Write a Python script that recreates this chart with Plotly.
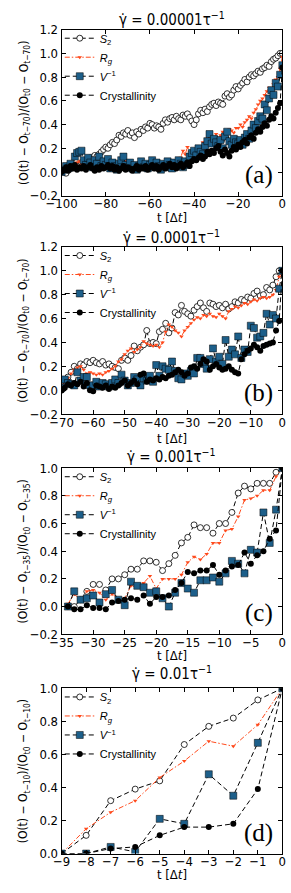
import plotly.graph_objects as go

# ---------------- data ----------------
t_a = list(range(-100, 1))
s2_a = [0.00,0.01,-0.01,0.02,0.03,0.05,0.04,0.06,0.05,0.08,
        0.06,0.09,0.10,0.12,0.11,0.14,0.13,0.15,0.17,0.19,
        0.21,0.20,0.23,0.25,0.24,0.27,0.31,0.30,0.33,0.32,
        0.35,0.31,0.33,0.29,0.34,0.32,0.36,0.35,0.38,0.37,
        0.41,0.40,0.37,0.39,0.38,0.36,0.41,0.44,0.42,0.45,
        0.46,0.44,0.47,0.45,0.44,0.48,0.47,0.49,0.46,0.43,
        0.40,0.44,0.49,0.52,0.50,0.53,0.51,0.55,0.57,0.58,
        0.56,0.59,0.58,0.57,0.64,0.66,0.63,0.65,0.69,0.72,
        0.70,0.73,0.75,0.78,0.76,0.80,0.82,0.81,0.83,0.85,
        0.84,0.87,0.88,0.90,0.89,0.93,0.95,0.96,0.98,1.00,
        1.00]
rg_a = [0.00,0.02,0.01,0.04,0.03,0.06,0.05,0.08,0.09,0.07,
        0.05,0.03,0.06,0.04,0.07,0.05,0.08,0.06,0.03,0.05,
        0.04,0.02,0.05,0.03,0.06,0.04,0.03,0.05,0.07,0.09,
        0.06,0.04,0.03,0.05,0.02,0.04,0.03,0.05,0.06,0.04,
        0.05,0.03,0.06,0.04,0.07,0.05,0.08,0.06,0.04,0.07,
        0.05,0.08,0.10,0.07,0.12,0.18,0.15,0.21,0.17,0.14,
        0.19,0.16,0.22,0.20,0.25,0.23,0.28,0.30,0.27,0.29,
        0.32,0.28,0.31,0.34,0.30,0.33,0.36,0.35,0.33,0.37,
        0.37,0.40,0.38,0.42,0.44,0.47,0.45,0.50,0.53,0.57,
        0.60,0.62,0.65,0.68,0.71,0.70,0.74,0.78,0.80,0.87,
        0.97]
v_a = [0.00,0.02,0.05,0.03,0.07,0.04,0.13,0.16,0.17,0.18,
       0.10,0.06,0.12,0.08,0.04,0.10,0.07,0.13,0.05,0.09,
       0.06,0.11,0.03,0.08,0.05,0.02,0.07,0.10,0.13,0.06,
       0.04,0.08,0.03,0.06,0.02,0.05,0.09,0.04,0.07,0.03,
       0.06,0.10,0.04,0.08,0.05,0.02,0.07,0.04,0.09,0.06,
       0.03,0.08,0.05,0.10,0.07,0.04,0.09,0.06,0.13,0.16,
       0.18,0.14,0.20,0.17,0.15,0.22,0.26,0.32,0.24,0.28,
       0.25,0.22,0.27,0.20,0.30,0.34,0.26,0.23,0.28,0.25,
       0.24,0.27,0.23,0.29,0.32,0.28,0.35,0.40,0.37,0.43,
       0.47,0.45,0.57,0.52,0.62,0.69,0.65,0.75,0.72,0.82,
       0.90]
cr_a = [0.00,0.02,0.04,0.01,0.05,0.03,0.06,0.02,0.04,0.03,
        0.05,0.02,0.04,0.06,0.03,0.01,0.04,0.02,0.05,0.03,
        0.04,0.06,0.03,0.05,0.02,0.04,0.01,0.03,0.05,0.02,
        0.04,0.03,0.01,0.03,0.05,0.02,0.04,0.03,0.05,0.02,
        0.04,0.06,0.03,0.05,0.02,0.04,0.06,0.03,0.05,0.07,
        0.04,0.06,0.03,0.05,0.07,0.04,0.06,0.08,0.05,0.09,
        0.11,0.10,0.12,0.14,0.11,0.13,0.17,0.15,0.18,0.16,
        0.20,0.22,0.17,0.14,0.19,0.16,0.13,0.18,0.21,0.19,
        0.23,0.21,0.25,0.27,0.24,0.29,0.31,0.28,0.33,0.36,
        0.34,0.38,0.41,0.39,0.44,0.47,0.45,0.50,0.54,0.58,
        0.88]

t_b = list(range(-70, 1))
s2_b = [0.00,0.05,0.11,0.15,0.20,0.18,0.22,0.21,0.24,0.23,
        0.25,0.23,0.22,0.24,0.21,0.22,0.20,0.19,0.18,0.25,
        0.27,0.25,0.29,0.37,0.33,0.36,0.38,0.50,0.39,0.40,
        0.39,0.49,0.51,0.56,0.48,0.52,0.65,0.63,0.71,0.66,
        0.64,0.62,0.67,0.70,0.73,0.69,0.66,0.73,0.72,0.70,
        0.71,0.69,0.72,0.68,0.70,0.74,0.73,0.76,0.75,0.78,
        0.77,0.81,0.83,0.79,0.80,0.86,0.84,0.88,0.95,1.00,
        1.00]
rg_b = [0.00,0.05,0.10,0.14,0.17,0.19,0.20,0.17,0.14,0.15,
        0.14,0.13,0.14,0.13,0.15,0.16,0.18,0.20,0.24,0.26,
        0.30,0.33,0.35,0.32,0.34,0.36,0.41,0.39,0.38,0.37,
        0.38,0.36,0.40,0.49,0.55,0.53,0.50,0.48,0.45,0.50,
        0.53,0.56,0.59,0.61,0.60,0.63,0.62,0.64,0.62,0.61,
        0.64,0.62,0.60,0.66,0.68,0.70,0.69,0.71,0.73,0.72,
        0.74,0.76,0.75,0.77,0.78,0.77,0.78,0.80,0.84,0.95,
        1.00]
v_b = [0.02,0.09,0.06,0.05,0.04,0.15,0.08,0.11,0.11,0.04,
       0.04,0.07,0.03,0.06,0.05,0.03,0.06,0.09,0.06,0.13,
       0.08,0.04,0.06,0.11,0.09,0.04,0.10,0.08,0.12,0.07,
       0.21,0.12,0.20,0.18,0.17,0.24,0.16,0.10,0.09,0.14,
       0.12,0.16,0.14,0.27,0.27,0.22,0.18,0.26,0.35,0.24,
       0.28,0.22,0.42,0.28,0.34,0.30,0.45,0.27,0.34,0.32,
       0.54,0.52,0.44,0.45,0.48,0.64,0.55,0.63,0.60,0.85,
       1.00]
cr_b = [0.00,0.02,0.05,0.04,0.06,0.05,0.07,0.03,0.06,0.00,
        -0.01,0.04,0.03,0.02,0.04,0.01,0.03,0.02,0.04,0.06,
        0.08,0.04,0.06,0.08,0.05,0.13,0.14,0.07,0.09,0.08,
        0.10,0.09,0.11,0.10,0.12,0.13,0.15,0.17,0.15,0.12,
        0.14,0.19,0.20,0.18,0.22,0.26,0.24,0.17,0.20,0.22,
        0.19,0.17,0.18,0.20,0.17,0.15,0.14,0.26,0.30,0.33,
        0.35,0.38,0.36,0.33,0.37,0.38,0.39,0.40,0.50,0.58,
        1.00]

t_c = list(range(-34, 1))
s2_c = [0.00,0.00,0.05,0.11,0.16,0.16,0.12,0.20,0.20,0.23,
        0.27,0.27,0.33,0.33,0.32,0.26,0.31,0.37,0.46,0.50,
        0.59,0.57,0.57,0.53,0.60,0.60,0.68,0.82,0.87,0.85,
        0.89,0.89,0.89,0.97,1.00]
rg_c = [0.02,0.09,0.05,0.11,0.12,0.10,0.05,0.09,0.06,0.06,
        0.15,0.14,0.17,0.22,0.13,0.20,0.20,0.20,0.23,0.32,
        0.36,0.34,0.38,0.46,0.46,0.55,0.56,0.65,0.77,0.78,
        0.80,0.84,0.84,0.94,1.00]
v_c = [0.00,0.11,0.05,0.06,0.08,0.03,0.09,0.12,0.05,0.01,
       0.18,0.15,0.14,0.10,0.11,0.06,0.00,0.10,0.17,0.13,
       0.10,0.19,0.19,0.21,0.18,0.24,0.33,0.31,0.24,0.41,
       0.39,0.68,0.46,0.70,1.00]
cr_c = [0.00,-0.02,-0.02,0.01,-0.01,-0.01,-0.02,0.03,0.04,0.05,
        0.06,0.05,0.08,0.02,0.07,0.07,0.08,0.12,0.17,0.25,
        0.24,0.26,0.26,0.30,0.23,0.26,0.29,0.30,0.39,0.31,
        0.37,0.40,0.49,0.55,1.00]

t_d = list(range(-9, 1))
s2_d = [0.00,0.11,0.32,0.39,0.44,0.66,0.77,0.82,0.93,1.00]
rg_d = [0.00,0.15,0.25,0.32,0.46,0.56,0.68,0.65,0.78,1.00]
v_d = [0.00,0.00,0.04,0.01,0.21,0.18,0.48,0.35,0.67,1.00]
cr_d = [0.00,0.00,0.03,0.04,0.11,0.16,0.16,0.18,0.39,1.00]

titles = ["γ̇ = 0.00001τ<sup>−1</sup>", "γ̇ = 0.0001τ<sup>−1</sup>",
          "γ̇ = 0.001τ<sup>−1</sup>", "γ̇ = 0.01τ<sup>−1</sup>"]
panel_tags = ["(a)", "(b)", "(c)", "(d)"]
ref_lags = ["t−70", "t−70", "t−35", "t−10"]
series_names = ["<i>S</i><sub>2</sub>", "<i>R<sub>g</sub></i>", "<i>V</i><sup>−1</sup>", "Crystallinity"]
x_ranges = [[-100, 0], [-70, 0], [-35, 0], [-9, 0]]
x_dticks = [20, 10, 5, 1]
y_ranges = [[-0.2, 1.2], [-0.2, 1.2], [-0.2, 1.0], [0.0, 1.0]]

panels = [
    (t_a, [s2_a, rg_a, v_a, cr_a]),
    (t_b, [s2_b, rg_b, v_b, cr_b]),
    (t_c, [s2_c, rg_c, v_c, cr_c]),
    (t_d, [s2_d, rg_d, v_d, cr_d]),
]

# ---------------- layout geometry (pixels) ----------------
W, H = 291, 893
px_left, px_right = 49, 286
panel_px = [(23, 192), (244, 414), (469, 638), (693, 861)]
title_px = [12, 234, 457, 677]
xtitle_px = [214, 439, 660, 882]

SANS = "Liberation Sans Narrow, DejaVu Sans Condensed, Liberation Sans, sans-serif"
LEGFONT = "Liberation Sans, Arial, sans-serif"
SERIF = "Liberation Serif, DejaVu Serif, serif"
RED = "#ff4a1c"
BLUE = "#1d5f8a"
DASH = "5px,3px"

styles = [
    dict(line=dict(color="black", width=1, dash=DASH),
         marker=dict(symbol="circle", size=6, color="white", line=dict(color="black", width=0.8))),
    dict(line=dict(color=RED, width=1, dash="5px,2px,1.5px,2px"),
         marker=dict(symbol="triangle-down", size=4, color=RED, line=dict(width=0))),
    dict(line=dict(color="black", width=1, dash=DASH),
         marker=dict(symbol="square", size=7, color=BLUE, line=dict(color="black", width=0.5))),
    dict(line=dict(color="black", width=1, dash=DASH),
         marker=dict(symbol="circle", size=6, color="black", line=dict(width=0))),
]

fig = go.Figure()
annotations = []
layout = dict(width=W, height=H, margin=dict(l=0, r=0, t=0, b=0),
              paper_bgcolor="white", plot_bgcolor="white", showlegend=True)

for i, (tt, series) in enumerate(panels):
    sfx = "" if i == 0 else str(i + 1)
    xa, ya = "x" + sfx, "y" + sfx
    leg = "legend" + sfx
    for name, vals, st in zip(series_names, series, styles):
        fig.add_trace(go.Scatter(x=tt, y=vals, name=name, mode="lines+markers",
                                 line=st["line"], marker=st["marker"],
                                 xaxis=xa, yaxis=ya, legend=leg))
    top, bot = panel_px[i]
    ydom = [1 - bot / H, 1 - top / H]
    xdom = [px_left / W, px_right / W]
    axis_common = dict(showline=True, linecolor="black", linewidth=1, mirror="ticks",
                       ticks="inside", ticklen=4, tickcolor="black", tickwidth=1,
                       showgrid=False, zeroline=False, ticklabeloverflow="allow",
                       tickfont=dict(family=SANS, size=13, color="black"))
    layout["xaxis" + sfx] = dict(domain=xdom, range=x_ranges[i], dtick=x_dticks[i],
                                 tick0=0, anchor=ya, ticklabelstandoff=-4, **axis_common)
    layout["yaxis" + sfx] = dict(domain=ydom, range=y_ranges[i], dtick=0.2, tick0=0,
                                 tickformat=".1f", anchor=xa, **axis_common)
    layout[leg] = dict(x=47 / W, y=1 - (top - 6) / H, xanchor="left", yanchor="top",
                       bgcolor="rgba(0,0,0,0)", borderwidth=0,
                       font=dict(family=LEGFONT, size=11, color="black"),
                       tracegroupgap=0, itemwidth=30)
    # title
    annotations.append(dict(text=titles[i], x=(px_left + px_right) / 2 / W,
                            y=1 - title_px[i] / H, xref="paper", yref="paper",
                            xanchor="center", yanchor="middle", showarrow=False,
                            font=dict(family=SANS, size=15, color="black")))
    # x title
    annotations.append(dict(text="t [Δ<i>t</i>]", x=(px_left + px_right) / 2 / W,
                            y=1 - xtitle_px[i] / H, xref="paper", yref="paper",
                            xanchor="center", yanchor="middle", showarrow=False,
                            font=dict(family=SANS, size=13, color="black")))
    # y title
    lag = ref_lags[i]
    ytxt = ("(O(t) − O<sub>%s</sub>)/(O<sub>t0</sub> − O<sub>%s</sub>)" % (lag, lag))
    annotations.append(dict(text=ytxt, x=9 / W, y=1 - (top + bot) / 2 / H,
                            xref="paper", yref="paper", textangle=-90,
                            xanchor="center", yanchor="middle", showarrow=False,
                            font=dict(family=SANS, size=12, color="black")))
    # panel tag
    annotations.append(dict(text=panel_tags[i], x=0.965, y=0.03,
                            xref=xa + " domain", yref=ya + " domain",
                            xanchor="right", yanchor="bottom", showarrow=False,
                            font=dict(family=SERIF, size=25, color="black")))

layout["annotations"] = annotations
fig.update_layout(**layout)
fig.write_html("out.html", config={"displayModeBar": False},
               post_script="document.body.style.margin='0';document.body.style.overflow='hidden';")
